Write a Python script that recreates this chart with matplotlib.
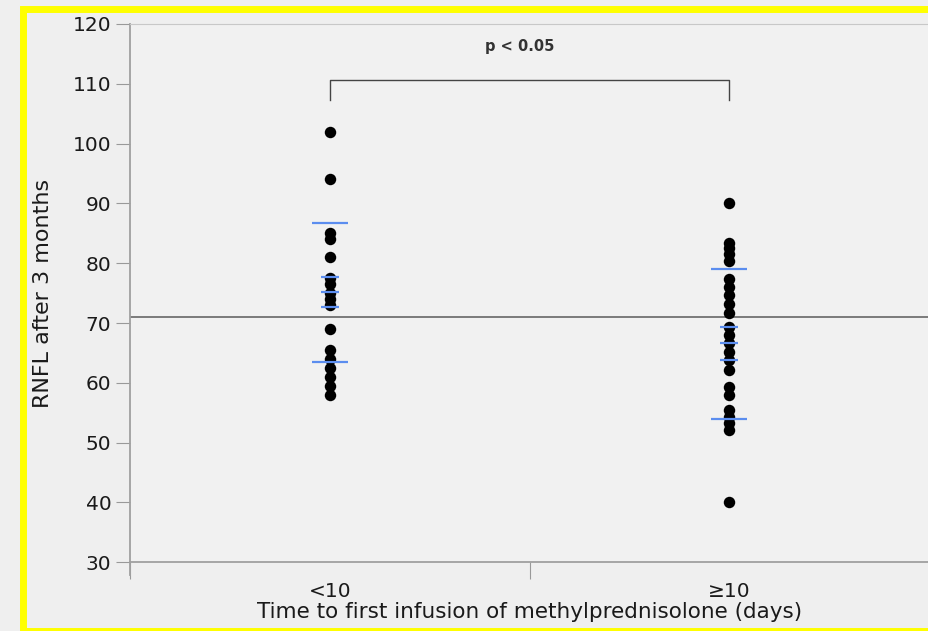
import numpy as np
import matplotlib
matplotlib.use("Agg")
import matplotlib.pyplot as plt
from matplotlib.patches import Rectangle

plt.rcParams['font.family'] = ['DejaVu Sans']

# data
groups = ["<10", "\u226510"]
early = [102, 94, 85, 84, 81, 77.5, 76.5, 75, 74, 73, 69, 65.5, 64, 62.5, 61, 59.5, 58]
late = [90, 83.3, 82.5, 81.6, 80.3, 77.4, 76.1, 74.7, 73.2, 71.6, 69.4, 68, 66.6,
        65.2, 63.8, 62.1, 59.3, 58, 55.5, 54.3, 53.2, 52.1, 40]
sd_lines = [(86.8, 63.5), (79.1, 54.0)]
mean_ci_lines = [(77.7, 75.2, 72.7), (69.4, 66.6, 63.8)]
ref_level = 71
p_text = "p < 0.05"

bg = "#efefef"
fig = plt.figure(figsize=(9.29, 6.31), dpi=100, facecolor=bg)
ax = fig.add_axes([0.14, 0.109, 0.86, 0.853])
ax.set_facecolor("#f1f1f1")

xpos = [0.5, 1.5]
for x, vals in zip(xpos, [early, late]):
    ax.scatter(np.full(len(vals), x), vals, s=68, color="black", zorder=3, linewidths=0)

blue = "#5b8def"
for x, (hi, lo) in zip(xpos, sd_lines):
    ax.hlines([hi, lo], x - 0.045, x + 0.045, color=blue, lw=1.6, zorder=4)
for x, vals in zip(xpos, mean_ci_lines):
    ax.hlines(vals, x - 0.022, x + 0.022, color=blue, lw=1.6, zorder=4)

ax.axhline(ref_level, color="#7a7a7a", lw=1.4, zorder=2)

# significance bracket
ax.plot([xpos[0], xpos[0], xpos[1], xpos[1]], [107.3, 110.6, 110.6, 107.3],
        color="#444444", lw=1.0)
ax.text(0.975, 116.2, p_text, ha="center", va="center", fontsize=10.5,
        fontweight="bold", color="#333333")

ax.set_xlim(0, 2)
ax.set_ylim(30, 120)
ax.set_yticks(np.arange(30, 121, 10))
ax.set_xticks([0, 1, 2])
ax.set_xticklabels([])
ax.set_xticks(xpos, minor=True)
ax.set_xticklabels(groups, minor=True)
ax.tick_params(axis="x", which="minor", length=0, pad=14, labelsize=14.5, colors="#1a1a1a")
ax.tick_params(axis="x", which="major", length=12, color="#999999")
ax.tick_params(axis="y", length=10, color="#999999", labelsize=14.5, labelcolor="#1a1a1a")

for s in ["left", "bottom"]:
    ax.spines[s].set_color("#a0a0a0")
    ax.spines[s].set_linewidth(1.3)
ax.spines["top"].set_color("#c8c8c8")
ax.spines["right"].set_visible(False)
ax.spines["left"].set_bounds(27.8, 120)

ax.set_ylabel("RNFL after 3 months", fontsize=16, color="#1a1a1a", labelpad=14)
ax.set_xlabel("Time to first infusion of methylprednisolone (days)", fontsize=15.5,
              color="#1a1a1a", labelpad=1)

# yellow frame around the slide
fig.patches.append(Rectangle((0.025, 0.0), 0.98, 0.985, transform=fig.transFigure,
                             fill=False, edgecolor="#ffff00", lw=5, zorder=10))

fig.savefig("out.png", dpi=100, facecolor=bg)
